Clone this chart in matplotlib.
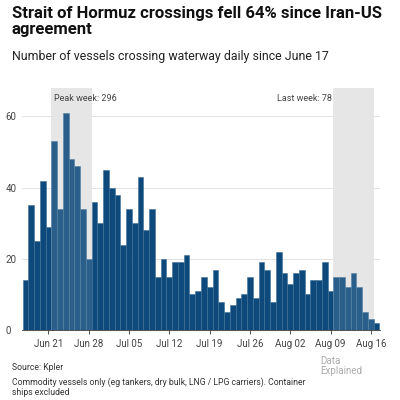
import matplotlib
matplotlib.use("Agg")
import matplotlib.pyplot as plt
import numpy as np

values = [14,35,25,42,29,53,34,61,48,46,34,20,36,30,45,40,38,24,34,30,43,28,34,15,20,15,19,19,21,
          10,11,15,12,17,8,5,7,9,10,15,9,19,17,8,22,16,13,16,17,10,14,14,19,11,15,15,12,16,12,5,3,2]
tick_labels = ["Jun 21","Jun 28","Jul 05","Jul 12","Jul 19","Jul 26","Aug 02","Aug 09","Aug 16"]
tick_pos = [4,11,18,25,32,39,46,53,60]
peak_range = (5, 11)
last_range = (54, 60)

plt.rcParams['font.family'] = ['Roboto', 'DejaVu Sans']
fig = plt.figure(figsize=(4,4), dpi=100)
ax = fig.add_axes([0.055, 0.175, 0.895, 0.605])
x = np.arange(len(values))
ax.set_xlim(-0.6, len(values)-0.4)
ax.set_ylim(0, 68)
for lo, hi in [peak_range, last_range]:
    ax.axvspan(lo-0.5, hi+0.5, color='#e3e3e3', zorder=0, lw=0)
ax.bar(x, values, width=1.0, color='#0d4a7b', edgecolor='#3f6f95', linewidth=0.4, zorder=2)
for lo, hi in [peak_range, last_range]:
    ax.axvspan(lo-0.5, hi+0.5, color='white', alpha=0.12, zorder=3, lw=0)
for y in [20,40,60]:
    ax.axhline(y, color='#e2e2e2', lw=0.7, zorder=1)
ax.set_yticks([0,20,40,60])
ax.set_yticklabels(['0','20','40','60'], fontsize=7, color='#444')
ax.tick_params(axis='y', length=0, pad=12)
for t in ax.get_yticklabels(): t.set_horizontalalignment('left')
ax.set_xticks(tick_pos)
ax.set_xticklabels(tick_labels, fontsize=7, color='#444')
ax.tick_params(axis='x', length=3, color='#333', width=0.6)
for s in ['top','right','left']:
    ax.spines[s].set_visible(False)
ax.spines['bottom'].set_color('#333'); ax.spines['bottom'].set_linewidth(0.6)
ax.text(5, 65, 'Peak week: 296', fontsize=6.5, color='#444', va='center')
ax.text(53.3, 65, 'Last week: 78', fontsize=6.5, color='#444', va='center', ha='right')

fig.text(0.03, 0.985, 'Strait of Hormuz crossings fell 64% since Iran-US\nagreement', fontsize=12,
         fontweight='bold', va='top', linespacing=1.05, color='#111')
fig.text(0.03, 0.875, 'Number of vessels crossing waterway daily since June 17', fontsize=8.9, va='top', color='#222')
fig.text(0.03, 0.075, 'Source: Kpler', fontsize=6.2, color='#333')
fig.text(0.03, 0.012, 'Commodity vessels only (eg tankers, dry bulk, LNG / LPG carriers). Container\nships excluded',
         fontsize=6.2, color='#333', linespacing=1.2)
fig.text(0.80, 0.085, 'Data\nExplained', fontsize=7, color='#aaa', linespacing=1.0, va='center', ha='left')
fig.savefig('out.png', dpi=100)
